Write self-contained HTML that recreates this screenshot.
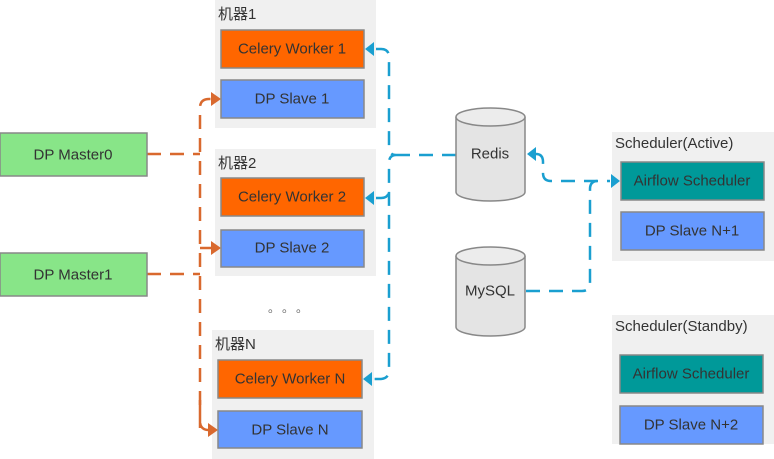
<!DOCTYPE html>
<html><head><meta charset="utf-8"><style>
body{margin:0;background:#fff;}
svg{display:block;font-family:"Liberation Sans","Noto Sans CJK SC",sans-serif;}
.b{stroke:#888;stroke-width:1.5;}
.t{font-size:15px;fill:#333;text-anchor:middle;dominant-baseline:central;}
.l{font-size:15px;fill:#333;}
.o{stroke:#d9692e;stroke-width:2.5;fill:none;stroke-dasharray:14,9;}
.c{stroke:#1a9fd0;stroke-width:2.5;fill:none;stroke-dasharray:14,9;}
</style></head><body>
<svg width="774" height="459" viewBox="0 0 774 459">
<rect x="215" y="0" width="161" height="128" fill="#f0f0f0"/>
<rect x="215" y="149" width="161" height="127" fill="#f0f0f0"/>
<rect x="212" y="330" width="162" height="129" fill="#f0f0f0"/>
<rect x="612" y="132" width="162" height="129" fill="#f0f0f0"/>
<rect x="612" y="315" width="162" height="129" fill="#f0f0f0"/>
<text class="l" x="218" y="19">机器1</text>
<text class="l" x="218" y="168">机器2</text>
<text class="l" x="215" y="349">机器N</text>
<text class="l" x="615" y="148">Scheduler(Active)</text>
<text class="l" x="615" y="331">Scheduler(Standby)</text>
<text x="292" y="312" font-size="12" fill="#666" text-anchor="middle" letter-spacing="8">。。。</text>
<path class="o" d="M147 154 H200"/>
<path class="o" d="M147 274 H200"/>
<path class="o" d="M200 428 V108 Q200 99 209 99 H212"/>
<path class="o" d="M200 248 H212"/>
<path class="o" d="M200 400 V421 Q200 430 209 430 H210"/>
<polygon points="221,99 211,92 211,106" fill="#d9692e"/>
<polygon points="221,248 211,241 211,255" fill="#d9692e"/>
<polygon points="218,430 208,423 208,437" fill="#d9692e"/>
<path class="c" d="M376 49 H381 Q389 49 389 57 V147 Q389 155 396 155 Q389 155 389 163 V370 Q389 379 380 379 H374"/>
<path class="c" d="M376 198 H381 Q389 198 389 190"/>
<path class="c" d="M396 155 H456"/>
<polygon points="365,49 374,42 374,56" fill="#1a9fd0"/>
<polygon points="365,198 374,191 374,205" fill="#1a9fd0"/>
<polygon points="363,379 372,372 372,386" fill="#1a9fd0"/>
<path class="c" d="M536 154 Q543 154 543 162 V173 Q543 181 551 181 H610" stroke-dasharray="0,0,30,9,14,9"/>
<polygon points="527,154 536,147 536,161" fill="#1a9fd0"/>
<polygon points="620,181 611,174 611,188" fill="#1a9fd0"/>
<path class="c" d="M526 291 H582 Q590 291 590 283 V189 Q590 181 598 181"/>
<g class="b" fill="#e4e4e4">
<path d="M456 117 V192 A34.5 9 0 0 0 525 192 V117"/>
<ellipse cx="490.5" cy="117" rx="34.5" ry="9" fill="#ececec"/>
<path d="M456 256 V327 A34.5 9 0 0 0 525 327 V256"/>
<ellipse cx="490.5" cy="256" rx="34.5" ry="9" fill="#ececec"/>
</g>
<text class="t" x="490" y="154">Redis</text>
<text class="t" x="490" y="291">MySQL</text>
<g class="b">
<rect x="0" y="133" width="147" height="43" fill="#88e588"/>
<rect x="0" y="253" width="147" height="43" fill="#88e588"/>
<rect x="221" y="30" width="143" height="38" fill="#ff6600"/>
<rect x="221" y="80" width="143" height="38" fill="#6699ff"/>
<rect x="221" y="178" width="143" height="38" fill="#ff6600"/>
<rect x="221" y="230" width="143" height="37" fill="#6699ff"/>
<rect x="218" y="360" width="144" height="38" fill="#ff6600"/>
<rect x="218" y="411" width="144" height="37" fill="#6699ff"/>
<rect x="621" y="162" width="143" height="38" fill="#009999"/>
<rect x="621" y="212" width="143" height="38" fill="#6699ff"/>
<rect x="620" y="355" width="143" height="38" fill="#009999"/>
<rect x="620" y="406" width="143" height="38" fill="#6699ff"/>
</g>
<text class="t" x="73" y="155">DP Master0</text>
<text class="t" x="73" y="275">DP Master1</text>
<text class="t" x="292" y="49">Celery Worker 1</text>
<text class="t" x="292" y="99">DP Slave 1</text>
<text class="t" x="292" y="197">Celery Worker 2</text>
<text class="t" x="292" y="248">DP Slave 2</text>
<text class="t" x="290" y="379">Celery Worker N</text>
<text class="t" x="290" y="430">DP Slave N</text>
<text class="t" x="692" y="181">Airflow Scheduler</text>
<text class="t" x="692" y="231">DP Slave N+1</text>
<text class="t" x="691" y="374">Airflow Scheduler</text>
<text class="t" x="691" y="425">DP Slave N+2</text>
</svg>
</body></html>
